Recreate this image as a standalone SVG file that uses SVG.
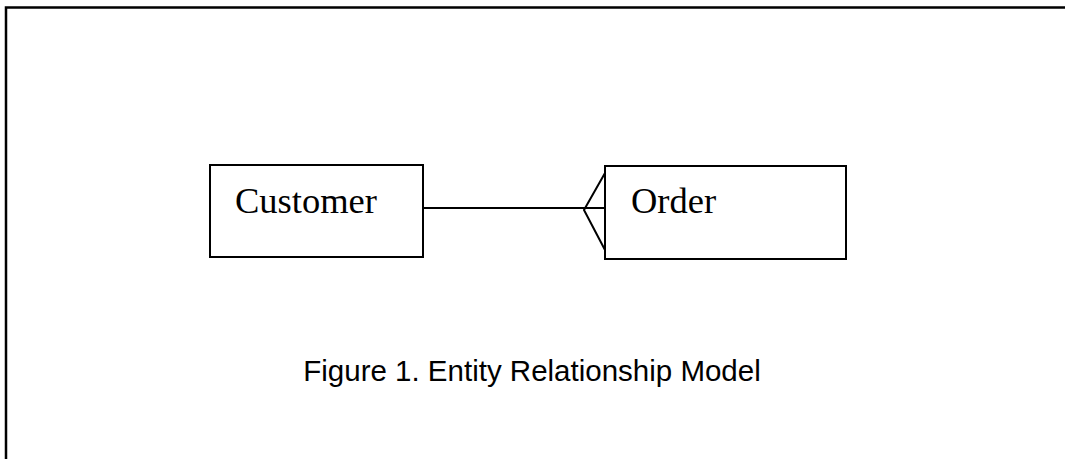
<svg xmlns="http://www.w3.org/2000/svg" width="1065" height="459" viewBox="0 0 1065 459">
<style>
.box{fill:#fff;stroke:#000;stroke-width:2}
.lbl{font-family:"Liberation Serif","Times New Roman",serif;font-size:36.5px;fill:#000}
.cap{font-family:"Liberation Sans",Arial,sans-serif;font-size:29.5px;fill:#000}
.conn{fill:none;stroke:#000;stroke-width:2}
</style>
<rect width="1065" height="459" fill="#fff"/>
<path d="M6,459 V7.5 H1065" fill="none" stroke="#000" stroke-width="2.5"/>
<g id="connectors">
<path class="conn" d="M423,208 H605"/>
<path class="conn" d="M605,173 L584,210 L605,250"/>
</g>
<g id="customer">
<rect class="box" x="210" y="165" width="213" height="92"/>
<text class="lbl" x="235" y="213">Customer</text>
</g>
<g id="order">
<rect class="box" x="605" y="166" width="241" height="93"/>
<text class="lbl" x="631" y="213">Order</text>
</g>
<text class="cap" x="532" y="381" text-anchor="middle">Figure 1. Entity Relationship Model</text>
</svg>
